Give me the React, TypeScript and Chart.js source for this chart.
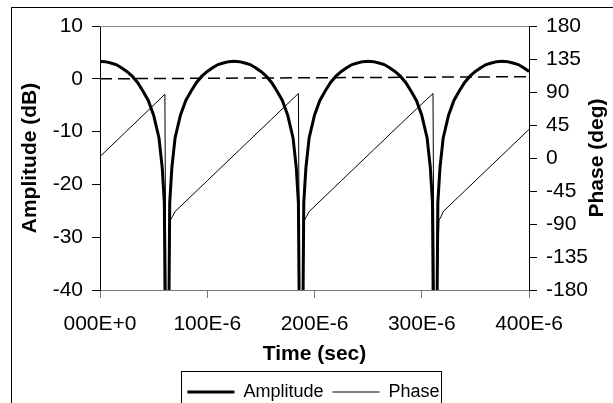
import React, { useEffect, useRef } from "react";
import { Chart, registerables } from "chart.js";

Chart.register(...registerables);

// ---- data (time in microseconds) ----
const ampTimeUs = [0,5,10,15,20,25,30,35,40,45,50,55,58,60,61,62.5,64,65,67,70,75,80,85,90,95,100,105,110,115,120,125,130,135,140,145,150,155,160,165,170,175,180,183,185,186,187.5,189,190,192,195,200,205,210,215,220,225,230,235,240,245,250,255,260,265,270,275,280,285,290,295,300,305,308,310,311,312.5,314,315,317,320,325,330,335,340,345,350,355,360,365,370,375,380,385,390,395,400];
const amplitudeDb = [3.3,3.25,3.0,2.7,2.1,1.4,0.5,-0.7,-2.3,-4.1,-6.9,-11.2,-16.8,-23.5,-50,-80,-50,-23.5,-16.8,-11.2,-6.9,-4.1,-2.3,-0.7,0.5,1.4,2.1,2.7,3.0,3.25,3.3,3.25,3.0,2.7,2.1,1.4,0.5,-0.7,-2.3,-4.1,-6.9,-11.2,-16.8,-23.5,-50,-80,-50,-23.5,-16.8,-11.2,-6.9,-4.1,-2.3,-0.7,0.5,1.4,2.1,2.7,3.0,3.25,3.3,3.25,3.0,2.7,2.1,1.4,0.5,-0.7,-2.3,-4.1,-6.9,-11.2,-16.8,-23.5,-50,-80,-50,-23.5,-16.8,-11.2,-6.9,-4.1,-2.3,-0.7,0.5,1.4,2.1,2.7,3.0,3.25,3.3,3.25,3.0,2.7,2.1,1.4];

const phaseTimeUs = [0,20,40,60.5,61.5,64,65.5,67.5,70,100,130,160,185,186,189,190.5,192.5,195,225,255,285,310.5,311.5,314,316,318,320,340,360,380,400];
const phaseDeg = [2,30,58,87,-200,-200,-85,-80,-73,-31,11,53,88,-200,-200,-85,-80,-73,-31,11,53,88,-200,-200,-85,-80,-73,-45,-17,11,39];

const refTimeUs = [0, 400];
const refDb = [0, 0.4];

const xTickValuesUs = [0, 100, 200, 300, 400];
const xTickLabels = ["000E+0", "100E-6", "200E-6", "300E-6", "400E-6"];

const xTitle = "Time (sec)";
const leftTitle = "Amplitude (dB)";
const rightTitle = "Phase (deg)";

const FONT = "'Liberation Sans', Arial, Helvetica, sans-serif";

const decorPlugin = {
  id: "decor",
  beforeDraw(chart: any) {
    const ctx = chart.ctx;
    ctx.save();
    ctx.fillStyle = "#fff";
    ctx.fillRect(0, 0, chart.width, chart.height);
    ctx.strokeStyle = "#000";
    ctx.lineWidth = 1;
    ctx.strokeRect(11.5, 7.5, 900, 900);
    ctx.restore();
  },
  afterDraw(chart: any) {
    const { ctx, chartArea } = chart;
    ctx.save();
    ctx.strokeStyle = "#8c8c8c";
    ctx.lineWidth = 1;
    ctx.beginPath();
    ctx.moveTo(chartArea.left, chartArea.top + 0.5);
    ctx.lineTo(chartArea.right, chartArea.top + 0.5);
    ctx.stroke();

    // legend border
    const lg = chart.legend;
    if (lg && lg.legendHitBoxes && lg.legendHitBoxes.length) {
      let l = Infinity, r = -Infinity;
      for (const hb of lg.legendHitBoxes) {
        l = Math.min(l, hb.left);
        r = Math.max(r, hb.left + hb.width);
      }
      ctx.strokeStyle = "#000";
      ctx.strokeRect(Math.round(l) - 5.5, 371.5, Math.round(r - l) + 8, 100);
    }

    // right axis title (reads bottom-to-top)
    ctx.translate(597, (chartArea.top + chartArea.bottom) / 2);
    ctx.rotate(-Math.PI / 2);
    ctx.font = "bold 21px " + FONT;
    ctx.fillStyle = "#000";
    ctx.textAlign = "center";
    ctx.textBaseline = "middle";
    ctx.fillText(rightTitle, 0, 0);
    ctx.restore();
  },
};

export default function App() {
  const canvasRef = useRef<HTMLCanvasElement | null>(null);

  useEffect(() => {
    const canvas = canvasRef.current;
    if (!canvas) return;
    const chart = new Chart(canvas, {
      type: "line",
      data: {
        datasets: [
          {
            label: "Amplitude",
            data: ampTimeUs.map((t, i) => ({ x: t, y: amplitudeDb[i] })),
            borderColor: "#000",
            backgroundColor: "#000",
            borderWidth: 3,
            pointRadius: 0,
            tension: 0,
            yAxisID: "y",
            clip: 0,
            order: 1,
          },
          {
            label: "Phase",
            data: phaseTimeUs.map((t, i) => ({ x: t, y: phaseDeg[i] })),
            borderColor: "#000",
            backgroundColor: "#000",
            borderWidth: 1,
            pointRadius: 0,
            tension: 0,
            yAxisID: "y1",
            clip: 0,
            order: 2,
          },
          {
            label: "Reference",
            data: refTimeUs.map((t, i) => ({ x: t, y: refDb[i] })),
            borderColor: "#000",
            borderWidth: 1.5,
            borderDash: [12, 6],
            pointRadius: 0,
            yAxisID: "y",
            clip: 0,
            order: 3,
          },
        ],
      },
      options: {
        animation: false,
        responsive: false,
        devicePixelRatio: 1,
        events: [],
        layout: { padding: { left: 14, right: 0, top: 26, bottom: 9 } },
        plugins: {
          tooltip: { enabled: false },
          legend: {
            position: "bottom",
            labels: {
              filter: (item: any) => item.text !== "Reference",
              usePointStyle: true,
              pointStyle: "line",
              pointStyleWidth: 47,
              padding: 9,
              color: "#000",
              font: { family: FONT, size: 18 },
            },
          },
        },
        scales: {
          x: {
            type: "linear",
            min: 0,
            max: 400,
            afterFit: (s: any) => { s.height = 84; },
            ticks: {
              stepSize: 100,
              autoSkip: false,
              maxRotation: 0,
              padding: 14,
              color: "#000",
              font: { family: FONT, size: 21 },
              callback: (v: any) => {
                const i = xTickValuesUs.indexOf(Math.round(Number(v)));
                return i >= 0 ? xTickLabels[i] : "";
              },
            },
            grid: { drawOnChartArea: false, drawTicks: true, tickLength: 8, tickColor: "#777", color: "#777" },
            border: { color: "#777", width: 1 },
            title: {
              display: true,
              text: xTitle,
              color: "#000",
              font: { family: FONT, size: 21, weight: "bold" },
              padding: { top: 0, bottom: 7 },
            },
          },
          y: {
            type: "linear",
            position: "left",
            min: -40,
            max: 10,
            afterFit: (s: any) => { s.width = 86; },
            ticks: {
              stepSize: 10,
              autoSkip: false,
              padding: 9,
              color: "#000",
              font: { family: FONT, size: 21 },
            },
            grid: { drawOnChartArea: false, drawTicks: true, tickLength: 8, tickColor: "#000" },
            border: { color: "#000", width: 1 },
            title: {
              display: true,
              text: leftTitle,
              color: "#000",
              font: { family: FONT, size: 21, weight: "bold" },
              padding: { top: 4, bottom: 0 },
            },
          },
          y1: {
            type: "linear",
            position: "right",
            min: -180,
            max: 180,
            afterFit: (s: any) => { s.width = 84; },
            ticks: {
              stepSize: 45,
              autoSkip: false,
              padding: 9,
              color: "#000",
              font: { family: FONT, size: 21 },
            },
            grid: { drawOnChartArea: false, drawTicks: true, tickLength: 8, tickColor: "#000" },
            border: { color: "#000", width: 1 },
          },
        },
      },
      plugins: [decorPlugin],
    } as any);
    return () => chart.destroy();
  }, []);

  return (
    <div style={{ position: "fixed", left: 0, top: 0, width: 613, height: 403, overflow: "hidden", background: "#fff" }}>
      <canvas ref={canvasRef} width={613} height={420} style={{ display: "block", width: 613, height: 420 }} />
    </div>
  );
}
